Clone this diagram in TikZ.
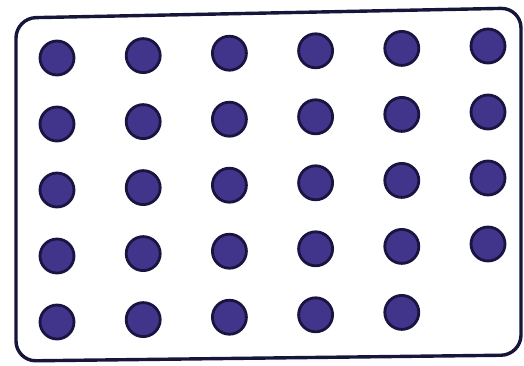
\documentclass[tikz,border=0pt]{standalone}
\definecolor{dotfill}{HTML}{40358A}
\definecolor{dotrim}{HTML}{1A1440}
\definecolor{frame}{HTML}{16163A}
\begin{document}
\begin{tikzpicture}[x=1pt,y=-1pt,
  dotnode/.style={circle,fill=dotfill,draw=dotrim,line width=2.8pt,minimum size=34pt,inner sep=0pt},
  framebox/.style={draw=frame,line width=3.4pt,rounded corners=20pt}]
\useasboundingbox (0,0) rectangle (524,365);
\draw[framebox] (16,18) -- (521,8) -- (521,355) -- (16,361) -- cycle;
\foreach \r in {0,...,4}{
  \foreach \c in {0,...,5}{
    \pgfmathsetmacro{\show}{(\r==4 && \c==5) ? 0 : 1}
    \ifnum\show=1
      \node[dotnode] (d\r\c) at ({57+86.2*\c},{58+66*\r-2.4*\c}) {};
    \fi
  }
}
\end{tikzpicture}
\end{document}
